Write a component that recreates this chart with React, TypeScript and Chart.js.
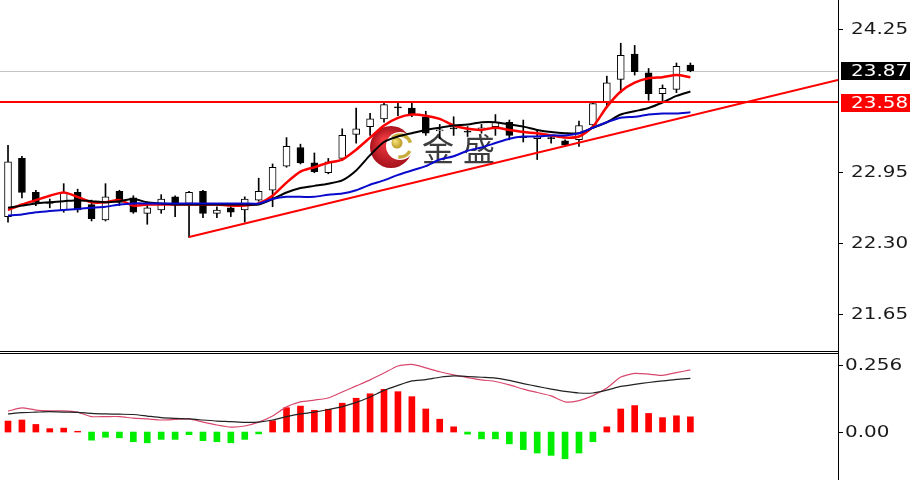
import React, { useEffect, useRef } from "react";
import { Chart, registerables } from "chart.js";

Chart.register(...registerables);

// ---- candle data (oldest -> newest) ----
const opens = [22.54, 23.07, 22.76, 22.67, 22.60, 22.76, 22.65, 22.51, 22.77, 22.71, 22.57, 22.60, 22.72, 22.66, 22.77, 22.57, 22.62, 22.60, 22.69, 22.78, 23.00, 23.17, 23.03, 22.94, 23.07, 23.29, 23.36, 23.43, 23.54, 23.53, 23.45, 23.32, 23.35, 23.32, 23.34, 23.36, 23.40, 23.27, 23.25, 23.26, 23.23, 23.24, 23.375, 23.58, 23.79, 24.02, 23.85, 23.66, 23.70, 23.92];
const highs = [23.19, 23.09, 22.78, 22.70, 22.84, 22.79, 22.69, 22.84, 22.78, 22.73, 22.65, 22.74, 22.73, 22.77, 22.78, 22.63, 22.65, 22.72, 22.89, 23.02, 23.26, 23.20, 23.12, 23.07, 23.34, 23.53, 23.48, 23.58, 23.58, 23.58, 23.50, 23.38, 23.45, 23.36, 23.38, 23.47, 23.42, 23.42, 23.33, 23.28, 23.24, 23.41, 23.58, 23.82, 24.12, 24.10, 23.89, 23.74, 23.94, 23.94];
const lows = [22.49, 22.71, 22.64, 22.62, 22.58, 22.58, 22.50, 22.50, 22.64, 22.57, 22.47, 22.57, 22.54, 22.35, 22.53, 22.53, 22.54, 22.49, 22.68, 22.63, 22.99, 23.02, 22.94, 22.93, 23.05, 23.21, 23.28, 23.40, 23.46, 23.45, 23.28, 23.25, 23.28, 23.27, 23.30, 23.28, 23.24, 23.22, 23.06, 23.21, 23.18, 23.18, 23.36, 23.54, 23.67, 23.83, 23.60, 23.58, 23.67, 23.86];
const closes = [23.04, 22.76, 22.67, 22.66, 22.76, 22.60, 22.52, 22.72, 22.67, 22.58, 22.62, 22.70, 22.65, 22.76, 22.57, 22.60, 22.58, 22.70, 22.77, 22.99, 23.18, 23.03, 22.95, 23.04, 23.28, 23.34, 23.43, 23.56, 23.53, 23.47, 23.30, 23.33, 23.34, 23.31, 23.35, 23.40, 23.28, 23.26, 23.27, 23.25, 23.19, 23.37, 23.57, 23.76, 24.01, 23.86, 23.66, 23.71, 23.91, 23.87];

// ---- moving averages ----
const maRed = [22.60, 22.65, 22.69, 22.73, 22.76, 22.72, 22.67, 22.67, 22.69, 22.64, 22.65, 22.65, 22.65, 22.65, 22.65, 22.65, 22.64, 22.64, 22.66, 22.73, 22.85, 22.95, 22.99, 23.03, 23.06, 23.15, 23.26, 23.37, 23.44, 23.47, 23.46, 23.43, 23.37, 23.34, 23.33, 23.35, 23.33, 23.31, 23.30, 23.28, 23.26, 23.27, 23.36, 23.54, 23.68, 23.76, 23.80, 23.81, 23.83, 23.81];
const maBlack = [22.62, 22.64, 22.66, 22.67, 22.68, 22.69, 22.68, 22.67, 22.68, 22.70, 22.67, 22.66, 22.65, 22.65, 22.65, 22.65, 22.65, 22.65, 22.65, 22.70, 22.76, 22.80, 22.82, 22.84, 22.87, 22.96, 23.10, 23.22, 23.27, 23.30, 23.33, 23.35, 23.37, 23.38, 23.40, 23.40, 23.38, 23.36, 23.33, 23.31, 23.30, 23.30, 23.35, 23.40, 23.47, 23.50, 23.53, 23.58, 23.64, 23.68];
const maBlue = [22.55, 22.56, 22.58, 22.59, 22.60, 22.61, 22.62, 22.63, 22.65, 22.66, 22.66, 22.66, 22.66, 22.66, 22.66, 22.66, 22.66, 22.66, 22.66, 22.70, 22.72, 22.72, 22.72, 22.74, 22.75, 22.78, 22.83, 22.87, 22.92, 22.96, 23.00, 23.06, 23.09, 23.14, 23.17, 23.21, 23.25, 23.27, 23.27, 23.28, 23.28, 23.30, 23.35, 23.40, 23.44, 23.45, 23.47, 23.48, 23.48, 23.49];

// ---- MACD ----
const dif = [0.080, 0.092, 0.084, 0.081, 0.081, 0.076, 0.059, 0.059, 0.059, 0.053, 0.050, 0.046, 0.048, 0.050, 0.038, 0.027, 0.019, 0.023, 0.038, 0.061, 0.096, 0.115, 0.122, 0.130, 0.153, 0.176, 0.199, 0.225, 0.252, 0.258, 0.245, 0.230, 0.218, 0.208, 0.199, 0.193, 0.180, 0.164, 0.151, 0.138, 0.115, 0.120, 0.139, 0.168, 0.210, 0.224, 0.221, 0.216, 0.227, 0.237];
const dea = [0.069, 0.074, 0.076, 0.078, 0.076, 0.075, 0.071, 0.069, 0.068, 0.067, 0.061, 0.055, 0.052, 0.050, 0.046, 0.042, 0.040, 0.037, 0.038, 0.046, 0.059, 0.069, 0.076, 0.086, 0.097, 0.113, 0.134, 0.159, 0.178, 0.195, 0.200, 0.209, 0.214, 0.212, 0.209, 0.206, 0.197, 0.185, 0.174, 0.164, 0.155, 0.149, 0.149, 0.160, 0.174, 0.182, 0.189, 0.195, 0.201, 0.205];
const hist = [0.042, 0.046, 0.029, 0.013, 0.015, 0.003, -0.031, -0.020, -0.022, -0.037, -0.041, -0.028, -0.028, -0.010, -0.033, -0.037, -0.041, -0.028, -0.007, 0.043, 0.093, 0.099, 0.083, 0.087, 0.110, 0.129, 0.146, 0.163, 0.154, 0.135, 0.088, 0.049, 0.020, -0.008, -0.026, -0.026, -0.045, -0.067, -0.080, -0.089, -0.102, -0.080, -0.037, 0.020, 0.088, 0.101, 0.071, 0.055, 0.062, 0.058];

// ---- axis / reference values ----
const priceTicks = [24.25, 22.95, 22.3, 21.65];
const priceTickLabels = ["24.25", "22.95", "22.30", "21.65"];
const macdTicks = [0.256, 0];
const macdTickLabels = ["0.256", "0.00"];
const lastPrice = 23.87;
const lastPriceLabel = "23.87";
const resistance = 23.58;
const resistanceLabel = "23.58";
const trendPoints = [
  { x: 13, y: 22.354 },
  { x: 59.6, y: 23.785 },
];
const X_RANGE = [-0.575, 59.6];
const PRICE_RANGE = [21.315, 24.514];
const MACD_RANGE = [-0.183, 0.294];

const AXIS_W = 72;
const LABEL_FONT = '15px "DejaVu Sans"';
const STRETCH = 1.33;

function stretchedText(ctx: CanvasRenderingContext2D, text: string, x: number, y: number, color: string) {
  ctx.save();
  ctx.font = LABEL_FONT;
  ctx.fillStyle = color;
  ctx.textAlign = "left";
  ctx.textBaseline = "middle";
  ctx.translate(x, y);
  ctx.scale(STRETCH, 1);
  ctx.fillText(text, 0, 1);
  ctx.restore();
}

function drawLogo(ctx: CanvasRenderingContext2D) {
  const cx = 391, cy = 147, r = 21;
  ctx.save();
  const g = ctx.createRadialGradient(cx - 7, cy - 7, 2, cx, cy, r);
  g.addColorStop(0, "#ee3a40");
  g.addColorStop(1, "#a8121c");
  ctx.fillStyle = g;
  ctx.beginPath();
  ctx.arc(cx, cy, r, 0, Math.PI * 2);
  ctx.fill();
  ctx.fillStyle = "#ffffff";
  ctx.beginPath();
  ctx.arc(cx + 9, cy - 1, 14, 0, Math.PI * 2);
  ctx.fill();
  ctx.strokeStyle = "#c9ad3c";
  ctx.lineWidth = 3.5;
  ctx.beginPath();
  ctx.arc(cx + 9, cy - 1, 11, -Math.PI * 0.75, -Math.PI * 0.1);
  ctx.stroke();
  ctx.beginPath();
  ctx.arc(cx + 9, cy - 1, 11, Math.PI * 0.15, Math.PI * 0.55);
  ctx.stroke();
  const gb = ctx.createRadialGradient(cx + 4, cy - 6, 1, cx + 6, cy - 4, 6);
  gb.addColorStop(0, "#f0dc70");
  gb.addColorStop(1, "#b89420");
  ctx.fillStyle = gb;
  ctx.beginPath();
  ctx.arc(cx + 6, cy - 4, 5.5, 0, Math.PI * 2);
  ctx.fill();
  ctx.fillStyle = "rgba(45,45,45,0.92)";
  ctx.font = '32px "Noto Sans CJK SC"';
  ctx.textBaseline = "middle";
  ctx.textAlign = "left";
  ctx.fillText("金", 422, 149);
  ctx.fillText("盛", 463, 149);
  ctx.restore();
}

const pricePlugin = {
  id: "priceDecor",
  beforeDatasetsDraw(chart: any) {
    const { ctx, chartArea: a, scales } = chart;
    const ys = scales.y;
    ctx.save();
    const yl = Math.round(ys.getPixelForValue(lastPrice)) + 0.5;
    ctx.strokeStyle = "#c4c4c4";
    ctx.lineWidth = 1;
    ctx.beginPath();
    ctx.moveTo(a.left, yl);
    ctx.lineTo(a.right, yl);
    ctx.stroke();
    ctx.restore();
    drawLogo(ctx);
  },
  afterDatasetsDraw(chart: any) {
    const { ctx, chartArea: a, scales } = chart;
    const xs = scales.x, ys = scales.y;
    ctx.save();
    ctx.beginPath();
    ctx.rect(a.left, a.top, a.right - a.left, a.bottom - a.top);
    ctx.clip();
    ctx.strokeStyle = "#ff0000";
    ctx.lineWidth = 2;
    const yr = Math.round(ys.getPixelForValue(resistance));
    ctx.beginPath();
    ctx.moveTo(a.left, yr);
    ctx.lineTo(a.right, yr);
    ctx.stroke();
    ctx.beginPath();
    trendPoints.forEach((p, i) => {
      const px = xs.getPixelForValue(p.x);
      const py = ys.getPixelForValue(p.y);
      if (i === 0) ctx.moveTo(px, py);
      else ctx.lineTo(px, py);
    });
    ctx.stroke();
    ctx.restore();
  },
  afterDraw(chart: any) {
    const { ctx, chartArea: a, scales } = chart;
    const ys = scales.y;
    ctx.save();
    ctx.strokeStyle = "#000";
    ctx.lineWidth = 1;
    priceTicks.forEach((v, i) => {
      const py = Math.round(ys.getPixelForValue(v)) + 0.5;
      ctx.beginPath();
      ctx.moveTo(a.right, py);
      ctx.lineTo(a.right + 5, py);
      ctx.stroke();
      stretchedText(ctx, priceTickLabels[i], a.right + 13, py, "#1a1a1a");
    });
    const y1 = ys.getPixelForValue(lastPrice);
    ctx.fillStyle = "#000";
    ctx.fillRect(a.right + 3, Math.round(y1) - 9, AXIS_W, 18);
    stretchedText(ctx, lastPriceLabel, a.right + 13, y1, "#ffffff");
    const y2 = ys.getPixelForValue(resistance);
    ctx.fillStyle = "#ff0000";
    ctx.fillRect(a.right + 3, Math.round(y2) - 8, AXIS_W, 18);
    stretchedText(ctx, resistanceLabel, a.right + 13, y2 + 1, "#ffffff");
    ctx.restore();
  },
};

const macdPlugin = {
  id: "macdDecor",
  afterDraw(chart: any) {
    const { ctx, chartArea: a, scales } = chart;
    const ys = scales.y;
    ctx.save();
    ctx.strokeStyle = "#000";
    ctx.lineWidth = 1;
    macdTicks.forEach((v, i) => {
      const py = Math.round(ys.getPixelForValue(v)) + 0.5;
      ctx.beginPath();
      ctx.moveTo(a.right, py);
      ctx.lineTo(a.right + 5, py);
      ctx.stroke();
      stretchedText(ctx, macdTickLabels[i], a.right + 7, py, "#1a1a1a");
    });
    ctx.restore();
  },
};

const idx = opens.map((_, i) => i);

function yAxis(range: number[]) {
  return {
    type: "linear" as const,
    position: "right" as const,
    min: range[0],
    max: range[1],
    ticks: { display: false },
    grid: { display: false },
    border: { display: false },
    afterFit(scale: any) {
      scale.width = AXIS_W;
    },
  };
}

const xAxis = {
  type: "linear" as const,
  min: X_RANGE[0],
  max: X_RANGE[1],
  offset: false,
  display: false,
  grid: { display: false },
};

export default function App() {
  const priceRef = useRef<HTMLCanvasElement>(null);
  const macdRef = useRef<HTMLCanvasElement>(null);

  useEffect(() => {
    const lineDs = (data: number[], color: string, width: number) => ({
      type: "line" as const,
      data: idx.map((i) => ({ x: i, y: data[i] })),
      borderColor: color,
      borderWidth: width,
      pointRadius: 0,
      tension: 0.25,
      fill: false,
      order: 1,
    });

    const priceChart = new Chart(priceRef.current!, {
      type: "bar",
      data: {
        datasets: [
          lineDs(maBlue, "#0a0acc", 2),
          lineDs(maBlack, "#000000", 2),
          lineDs(maRed, "#ff0000", 2.5),
          {
            type: "bar",
            data: idx.map((i) => ({ x: i, y: [opens[i], closes[i]] })),
            backgroundColor: idx.map((i) => (closes[i] >= opens[i] ? "#ffffff" : "#000000")),
            borderColor: "#000000",
            borderWidth: 1,
            borderSkipped: false,
            barThickness: 7,
            grouped: false,
            order: 2,
          } as any,
          {
            type: "bar",
            data: idx.map((i) => ({ x: i, y: [lows[i], highs[i]] })),
            backgroundColor: "#000000",
            borderWidth: 0,
            barThickness: 1,
            grouped: false,
            order: 3,
          } as any,
        ],
      },
      options: {
        responsive: false,
        animation: false,
        layout: { padding: 0 },
        plugins: { legend: { display: false }, tooltip: { enabled: false } },
        scales: { x: xAxis as any, y: yAxis(PRICE_RANGE) as any },
      },
      plugins: [pricePlugin],
    });

    const macdChart = new Chart(macdRef.current!, {
      type: "bar",
      data: {
        datasets: [
          {
            type: "line",
            data: idx.map((i) => ({ x: i, y: dea[i] })),
            borderColor: "#222222",
            borderWidth: 1.2,
            pointRadius: 0,
            tension: 0.2,
            order: 1,
          } as any,
          {
            type: "line",
            data: idx.map((i) => ({ x: i, y: dif[i] })),
            borderColor: "#d8486e",
            borderWidth: 1.2,
            pointRadius: 0,
            tension: 0.2,
            order: 1,
          } as any,
          {
            type: "bar",
            data: idx.map((i) => ({ x: i, y: [0, hist[i]] })),
            backgroundColor: idx.map((i) => (hist[i] >= 0 ? "#ff0000" : "#00ee00")),
            borderWidth: 0,
            barThickness: 6,
            grouped: false,
            order: 2,
          } as any,
        ],
      },
      options: {
        responsive: false,
        animation: false,
        layout: { padding: 0 },
        plugins: { legend: { display: false }, tooltip: { enabled: false } },
        scales: { x: xAxis as any, y: yAxis(MACD_RANGE) as any },
      },
      plugins: [macdPlugin],
    });

    return () => {
      priceChart.destroy();
      macdChart.destroy();
    };
  }, []);

  return (
    <div style={{ position: "fixed", left: 0, top: 0, width: 910, height: 480, background: "#fff", overflow: "hidden" }}>
      <canvas ref={priceRef} width={910} height={351} style={{ position: "absolute", left: 0, top: 0, width: 910, height: 351 }} />
      <canvas ref={macdRef} width={910} height={125} style={{ position: "absolute", left: 0, top: 355, width: 910, height: 125 }} />
      <div style={{ position: "absolute", left: 0, top: 351, width: 839, height: 1, background: "#000" }} />
      <div style={{ position: "absolute", left: 0, top: 353, width: 839, height: 1, background: "#000" }} />
      <div style={{ position: "absolute", left: 838, top: 0, width: 1, height: 480, background: "#000" }} />
    </div>
  );
}
